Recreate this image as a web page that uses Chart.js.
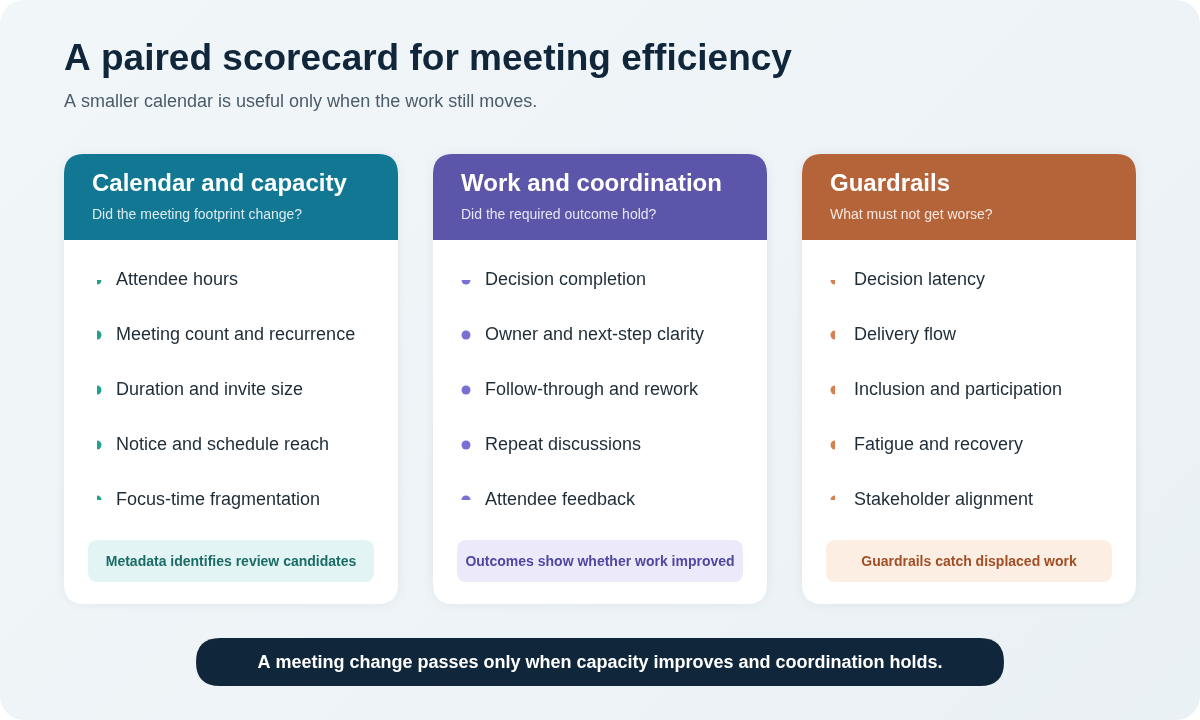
<!DOCTYPE html>
<html><head><meta charset="utf-8">
<script src="https://cdn.jsdelivr.net/npm/chart.js@4"></script>
<style>
html,body{margin:0;padding:0;background:#fff;}
#wrap{width:1200px;height:720px;border-radius:24px;overflow:hidden;background:linear-gradient(135deg,#f1f6f9,#eaf1f4);}
</style></head>
<body><div id="wrap"><canvas id="c" width="1200" height="720"></canvas></div>
<script>
const title = 'A paired scorecard for meeting efficiency';
const subtitle = 'A smaller calendar is useful only when the work still moves.';
const groups = ['Calendar and capacity', 'Work and coordination', 'Guardrails'];
const questions = ['Did the meeting footprint change?', 'Did the required outcome hold?', 'What must not get worse?'];
const items = [
  ['Attendee hours', 'Meeting count and recurrence', 'Duration and invite size', 'Notice and schedule reach', 'Focus-time fragmentation'],
  ['Decision completion', 'Owner and next-step clarity', 'Follow-through and rework', 'Repeat discussions', 'Attendee feedback'],
  ['Decision latency', 'Delivery flow', 'Inclusion and participation', 'Fatigue and recovery', 'Stakeholder alignment']
];
const notes = ['Metadata identifies review candidates', 'Outcomes show whether work improved', 'Guardrails catch displaced work'];
const footer = 'A meeting change passes only when capacity improves and coordination holds.';

const headColors = ['#127793', '#5b56a9', '#b5643a'];
const dotColors = ['#22a193', '#7a6fd2', '#d7804f'];
const noteFill = ['#e2f4f3', '#ece9fb', '#fdeee3'];
const noteText = ['#1b6b66', '#4f47a0', '#a04e25'];
const F = '"Liberation Sans", Arial, sans-serif';

const points = [];
items.forEach((list, g) => list.forEach((t, i) => points.push({x: g, y: i, label: t, g})));

function rr(ctx, x, y, w, h, r) {
  ctx.beginPath();
  ctx.moveTo(x + r[0], y);
  ctx.lineTo(x + w - r[1], y); ctx.quadraticCurveTo(x + w, y, x + w, y + r[1]);
  ctx.lineTo(x + w, y + h - r[2]); ctx.quadraticCurveTo(x + w, y + h, x + w - r[2], y + h);
  ctx.lineTo(x + r[3], y + h); ctx.quadraticCurveTo(x, y + h, x, y + h - r[3]);
  ctx.lineTo(x, y + r[0]); ctx.quadraticCurveTo(x, y, x + r[0], y);
  ctx.closePath();
}

const board = {
  id: 'board',
  beforeDatasetsDraw(chart) {
    const ctx = chart.ctx, xs = chart.scales.x;
    ctx.save();
    ctx.textBaseline = 'middle';
    ctx.fillStyle = '#10263a'; ctx.font = 'bold 37px ' + F;
    ctx.fillText(title, 64, 60);
    ctx.fillStyle = '#4b5c68'; ctx.font = '18px ' + F;
    ctx.fillText(subtitle, 64, 102);
    groups.forEach((g, i) => {
      const left = xs.getPixelForValue(i) - 33;
      ctx.shadowColor = 'rgba(20,40,60,0.06)'; ctx.shadowBlur = 12;
      ctx.fillStyle = '#fff'; rr(ctx, left, 154, 334, 450, [20, 20, 20, 20]); ctx.fill();
      ctx.shadowBlur = 0;
      ctx.fillStyle = headColors[i]; rr(ctx, left, 154, 334, 86, [20, 20, 0, 0]); ctx.fill();
      ctx.fillStyle = '#fff'; ctx.font = 'bold 24px ' + F; ctx.textAlign = 'left';
      ctx.fillText(g, left + 28, 184);
      ctx.fillStyle = 'rgba(255,255,255,0.85)'; ctx.font = '14px ' + F;
      ctx.fillText(questions[i], left + 28, 215);
      ctx.fillStyle = noteFill[i]; rr(ctx, left + 24, 540, 286, 42, [10, 10, 10, 10]); ctx.fill();
      ctx.fillStyle = noteText[i]; ctx.font = 'bold 14px ' + F; ctx.textAlign = 'center';
      ctx.fillText(notes[i], left + 167, 562);
      ctx.textAlign = 'left';
    });
    ctx.fillStyle = '#10263a'; rr(ctx, 196, 638, 808, 48, [24, 24, 24, 24]); ctx.fill();
    ctx.fillStyle = '#fff'; ctx.font = 'bold 18px ' + F; ctx.textAlign = 'center';
    ctx.fillText(footer, 600, 663);
    ctx.restore();
  },
  afterDatasetsDraw(chart) {
    const ctx = chart.ctx;
    ctx.save();
    ctx.fillStyle = '#1e2c37'; ctx.font = '18px ' + F; ctx.textBaseline = 'middle';
    chart.getDatasetMeta(0).data.forEach((el, i) => ctx.fillText(points[i].label, el.x + 19, el.y));
    ctx.restore();
  }
};

new Chart(document.getElementById('c'), {
  type: 'scatter',
  data: { datasets: [{
    data: points,
    pointRadius: 4.5, pointHoverRadius: 4.5, borderWidth: 0,
    backgroundColor: points.map(p => dotColors[p.g])
  }]},
  options: {
    responsive: false, animation: false, events: [],
    layout: { padding: { left: 97, right: 365, top: 280, bottom: 220 } },
    plugins: { legend: { display: false }, tooltip: { enabled: false } },
    scales: {
      x: { display: false, min: 0, max: 2 },
      y: { display: false, min: 0, max: 4, reverse: true }
    }
  },
  plugins: [board]
});
</script></body></html>
